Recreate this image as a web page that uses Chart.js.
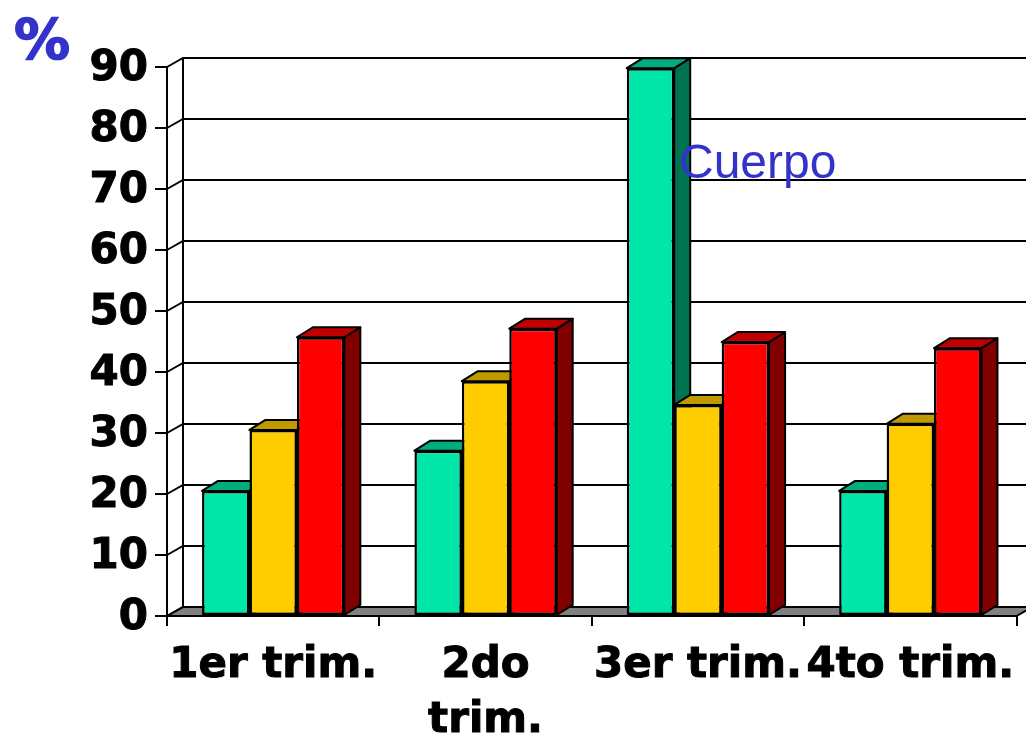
<!DOCTYPE html>
<html>
<head>
<meta charset="utf-8">
<style>html,body{margin:0;padding:0;background:#fff}canvas{display:block}</style>
<script src="https://cdn.jsdelivr.net/npm/chart.js@4"></script>
</head>
<body>
<canvas id="c" width="1026" height="740"></canvas>
<script>
const categories = ["1er trim.", ["2do", "trim."], "3er trim.", "4to trim."];
const seriesGreen = [20.5, 27.1, 89.8, 20.5];
const seriesYellow = [30.5, 38.5, 34.6, 31.5];
const seriesRed = [45.7, 47.1, 44.9, 43.9];
const yTicks = [0, 10, 20, 30, 40, 50, 60, 70, 80, 90];
const unitLabel = "%";
const noteLabel = "Cuerpo";

const BLUE = "#3333CC";
const DX = 16, DY = 9, BAR_DY = 10;
const faces = [
  {top: "#00AD80", side: "#007353"},
  {top: "#BF9900", side: "#806600"},
  {top: "#BF0000", side: "#800000"}
];

function poly(ctx, pts, fill) {
  ctx.beginPath();
  pts.forEach((p, i) => i ? ctx.lineTo(p[0], p[1]) : ctx.moveTo(p[0], p[1]));
  ctx.closePath();
  if (fill) { ctx.fillStyle = fill; ctx.fill(); }
  ctx.stroke();
}

const chart3d = {
  id: "chart3d",
  beforeDatasetsDraw(chart) {
    const {ctx, scales: {x, y}, chartArea: a} = chart;
    ctx.save();
    ctx.lineWidth = 2;
    ctx.strokeStyle = "#000";
    // floor
    poly(ctx, [[a.left, a.bottom], [a.left + DX, a.bottom - DY], [a.right + DX, a.bottom - DY], [a.right, a.bottom]], "#808080");
    // back wall grid and side wall diagonals
    yTicks.forEach(v => {
      const py = y.getPixelForValue(v);
      ctx.beginPath();
      ctx.moveTo(a.left, py);
      ctx.lineTo(a.left + DX, py - DY);
      ctx.lineTo(a.right + DX, py - DY);
      ctx.stroke();
    });
    ctx.beginPath();
    ctx.moveTo(a.left + DX, a.top - DY);
    ctx.lineTo(a.left + DX, a.bottom - DY);
    ctx.stroke();
    // 3D faces of the bars
    ctx.lineJoin = "round";
    for (let c = 0; c < categories.length; c++) {
      chart.data.datasets.forEach((ds, s) => {
        const b = chart.getDatasetMeta(s).data[c];
        const l = b.x - b.width / 2, r = b.x + b.width / 2;
        poly(ctx, [[r, b.y], [r + DX, b.y - BAR_DY], [r + DX, b.base - BAR_DY], [r, b.base]], faces[s].side);
        poly(ctx, [[l, b.y], [l + DX, b.y - BAR_DY], [r + DX, b.y - BAR_DY], [r, b.y]], faces[s].top);
      });
    }
    ctx.restore();
  },
  afterDraw(chart) {
    const {ctx} = chart;
    ctx.save();
    ctx.fillStyle = BLUE;
    ctx.strokeStyle = BLUE;
    ctx.lineWidth = 1.5;
    ctx.textAlign = "left";
    ctx.textBaseline = "alphabetic";
    ctx.font = "bold 56px 'DejaVu Sans'";
    ctx.fillText(unitLabel, 14, 58);
    ctx.strokeText(unitLabel, 14, 58);
    ctx.font = "48px 'Liberation Sans'";
    ctx.fillText(noteLabel, 679, 178);
    ctx.restore();
  }
};

new Chart(document.getElementById("c"), {
  type: "bar",
  data: {
    labels: categories,
    datasets: [
      {label: "Serie 1", data: seriesGreen, backgroundColor: "#00E6A8"},
      {label: "Serie 2", data: seriesYellow, backgroundColor: "#FFCC00"},
      {label: "Serie 3", data: seriesRed, backgroundColor: "#FF0000"}
    ].map(d => Object.assign(d, {
      borderColor: "#000", borderWidth: 2.5, borderSkipped: false,
      categoryPercentage: 0.67, barPercentage: 1
    }))
  },
  options: {
    responsive: false,
    animation: false,
    events: [],
    layout: {padding: {top: 67, right: 9.5, left: 0, bottom: 0}},
    plugins: {legend: {display: false}, title: {display: false}, tooltip: {enabled: false}},
    scales: {
      x: {
        afterFit(s) { s.height = 124; s.paddingLeft = 0; s.paddingRight = 0; },
        grid: {drawOnChartArea: false, drawTicks: true, tickLength: 10, color: "#000", lineWidth: 2},
        border: {display: true, color: "#000", width: 2},
        ticks: {
          color: "#000", autoSkip: false, maxRotation: 0, minRotation: 0, padding: 13,
          textStrokeColor: "#000", textStrokeWidth: 1,
          font: {family: "'DejaVu Sans'", weight: "bold", size: 42, lineHeight: 1.31}
        }
      },
      y: {
        min: 0, max: 90,
        afterFit(s) { s.width = 167; },
        afterBuildTicks(s) { s.ticks = yTicks.map(v => ({value: v})); },
        grid: {drawOnChartArea: false, drawTicks: true, tickLength: 12, color: "#000", lineWidth: 2},
        border: {display: true, color: "#000", width: 2},
        ticks: {
          color: "#000", padding: 7, labelOffset: 2,
          textStrokeColor: "#000", textStrokeWidth: 1,
          font: {family: "'DejaVu Sans'", weight: "bold", size: 42}
        }
      }
    }
  },
  plugins: [chart3d]
});
</script>
</body>
</html>
